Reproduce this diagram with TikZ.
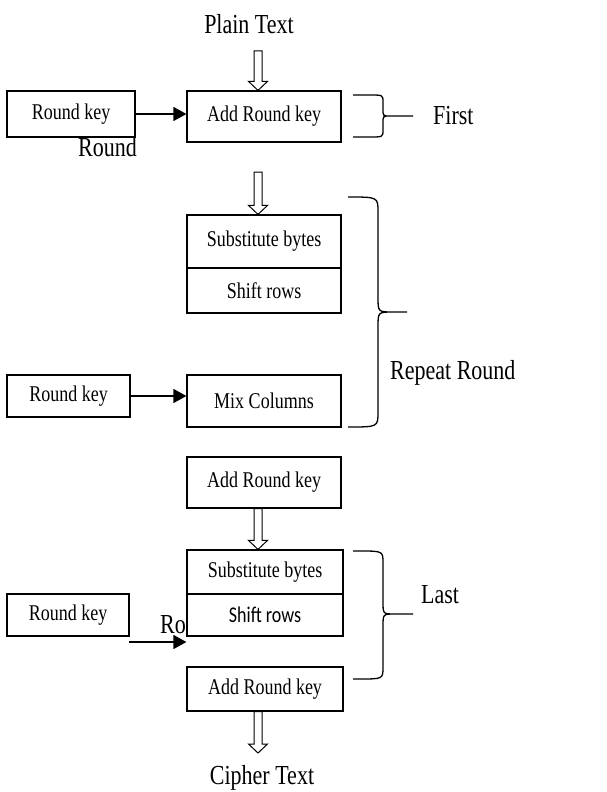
\documentclass[tikz,border=0pt]{standalone}
\usepackage{fontspec}
\setmainfont{Liberation Serif}
\newfontfamily\calibfont{Carlito}
\usepackage{graphicx}
\usetikzlibrary{arrows.meta,calc}
\newcommand{\tall}[1]{\scalebox{1}[1.25]{#1}}
\tikzset{stagebox/.style={draw,line width=1.2pt,inner sep=0pt,minimum width=154pt,fill=white,font=\fontsize{18}{20}\selectfont},
keyarrow/.style={line width=1.4pt,-{Triangle[length=13pt,width=14pt]}},
hollow/.style={draw,line width=1pt,fill=white},
bracepath/.style={line width=1.3pt},
biglabel/.style={font=\fontsize{22}{24}\selectfont,inner sep=0pt}}
% hollow down arrow from #1 to the tip #2
\newcommand{\hollowdown}[2]{\path[hollow] let \p1=#1,\p2=#2 in (\x1-4pt,\y1)--(\x1-4pt,\y2+9pt)--(\x1-9.5pt,\y2+9pt)--(\x1,\y2)--(\x1+9.5pt,\y2+9pt)--(\x1+4pt,\y2+9pt)--(\x1+4pt,\y1)--cycle;}
% x0, ytop, ymid, ybot, xv, xtip, r
\newcommand{\stagebrace}[7]{\draw[bracepath](#1,#2)--(#5-2*#7,#2)..controls(#5,#2)..(#5,#2+#7)--(#5,#3-#7)..controls(#5,#3)..(#5+#7,#3)--(#6,#3)(#5+#7,#3)..controls(#5,#3)..(#5,#3+#7)--(#5,#4-#7)..controls(#5,#4)..(#5-2*#7,#4)--(#1,#4);}
\begin{document}
\begin{tikzpicture}[x=1pt,y=-1pt]
\useasboundingbox(0,0)rectangle(606,792);
\node[biglabel](plain)at(249,24){\tall{Plain Text}};
\node[stagebox,minimum width=128pt,minimum height=46pt](keyA)at(71,114){\tall{Round key}};
\node[stagebox,minimum height=51pt](addA)at(264,116.5){\tall{Add Round key}};
\node[biglabel,anchor=west](rlab)at(78,147){\tall{Round}};
\node[stagebox,minimum height=53pt](subA)at(264,241.5){\tall{Substitute bytes}};
\node[stagebox,minimum height=45pt](shiftA)at(264,290.5){\tall{Shift rows}};
\node[stagebox,minimum width=123pt,minimum height=42pt](keyB)at(68.5,396){\tall{Round key}};
\node[stagebox,minimum height=52pt](mixA)at(264,401){\tall{Mix Columns}};
\node[stagebox,minimum height=51pt](addB)at(264,482.5){\tall{Add Round key}};
\node[stagebox,minimum width=156pt,minimum height=44pt](subB)at(265,572){\tall{Substitute bytes}};
\node[stagebox,minimum width=156pt,minimum height=42pt](shiftB)at(265,615){\calibfont\tall{Shift rows}};
\node[stagebox,minimum width=122pt,minimum height=42pt](keyC)at(68,615){\tall{Round key}};
\node[biglabel,anchor=west](rolab)at(160,625){\tall{Ro}};
\node[stagebox,minimum width=156pt,minimum height=44pt](addC)at(265,689){\tall{Add Round key}};
\node[biglabel](cipher)at(262,778){\tall{Cipher Text}};
% arrows
\coordinate(axis)at(258,0);
\coordinate(topin)at(258,51);
\coordinate(midin)at(258,172);
\coordinate(botout)at(258,753);
\coordinate(k3)at(129,642);
\hollowdown{(topin)}{(addA.north -| axis)}
\hollowdown{(midin)}{(subA.north -| axis)}
\hollowdown{(addB.south -| axis)}{(subB.north -| axis)}
\hollowdown{(addC.south -| axis)}{(botout)}
\draw[keyarrow](keyA.east)--(keyA.east -| addA.west);
\draw[keyarrow](keyB.east)--(keyB.east -| mixA.west);
\draw[keyarrow](k3)--(k3 -| shiftB.west);
% braces
\stagebrace{353}{95}{116}{137}{383}{413}{7}
\stagebrace{348}{197}{312}{427}{378}{407}{15}
\stagebrace{353}{551}{614}{679}{383}{413}{12}
\node[biglabel,anchor=west](first)at(433,116){\tall{First}};
\node[biglabel,anchor=west](repeat)at(390,373){\tall{Repeat Round}};
\node[biglabel,anchor=west](last)at(421,595){\tall{Last}};
\end{tikzpicture}
\end{document}
